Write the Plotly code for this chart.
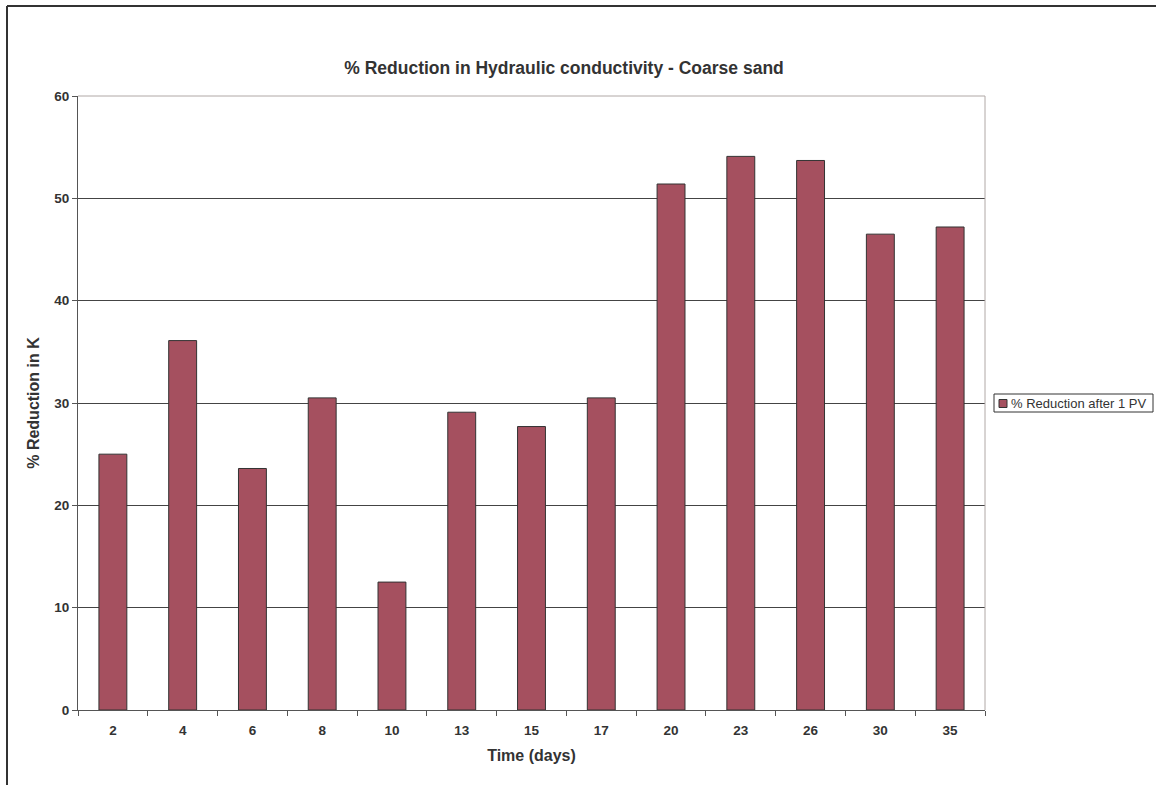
import plotly.graph_objects as go

# Sampling day after start of the column test
days = ["2", "4", "6", "8", "10", "13", "15", "17", "20", "23", "26", "30", "35"]
# Percent reduction in hydraulic conductivity after 1 pore volume
reduction_1pv = [25.0, 36.1, 23.6, 30.5, 12.5, 29.1, 27.7, 30.5, 51.4, 54.1, 53.7, 46.5, 47.2]
y_ticks = [0, 10, 20, 30, 40, 50, 60]
series_name = "% Reduction after 1 PV"

W, H = 1156, 785
L, R, T, B = 78, 171, 96, 75
PW, PH = W - L - R, H - T - B


def px_x(px):
    return (px - L) / PW


def px_y(py):
    return (H - B - py) / PH


FONT = "Liberation Sans, Arial, sans-serif"
TXT = "#333333"
BAR = "#A5505F"
EDGE = "#333333"

fig = go.Figure()
fig.add_trace(go.Bar(
    x=days,
    y=reduction_1pv,
    name=series_name,
    marker=dict(color=BAR, line=dict(color=EDGE, width=1)),
    showlegend=False,
))

shapes = [
    # light top and right plot borders
    dict(type="line", xref="paper", yref="paper", x0=0, x1=1, y0=1, y1=1,
         line=dict(color="#B0A8A6", width=1)),
    dict(type="line", xref="paper", yref="paper", x0=1, x1=1, y0=0, y1=1,
         line=dict(color="#B0A8A6", width=1)),
    # outer chart frame (top and left)
    dict(type="line", xref="paper", yref="paper",
         x0=px_x(7), x1=px_x(1156), y0=px_y(6), y1=px_y(6),
         line=dict(color="#333333", width=2)),
    dict(type="line", xref="paper", yref="paper",
         x0=px_x(7), x1=px_x(7), y0=px_y(6), y1=px_y(785),
         line=dict(color="#333333", width=2)),
    # legend box and swatch
    dict(type="rect", xref="paper", yref="paper",
         x0=px_x(994), x1=px_x(1153), y0=px_y(412), y1=px_y(394),
         line=dict(color="#333333", width=1), fillcolor="white"),
    dict(type="rect", xref="paper", yref="paper",
         x0=px_x(999), x1=px_x(1007), y0=px_y(407.5), y1=px_y(399.5),
         line=dict(color=EDGE, width=1), fillcolor=BAR),
]

annotations = [
    dict(text=series_name, xref="paper", yref="paper",
         x=px_x(1009), y=px_y(403.5), xanchor="left", yanchor="middle",
         showarrow=False, font=dict(family=FONT, size=13, color=TXT)),
]

fig.update_layout(
    width=W, height=H,
    margin=dict(l=L, r=R, t=T, b=B, autoexpand=False),
    paper_bgcolor="white",
    plot_bgcolor="white",
    bargap=0.6,
    font=dict(family=FONT, color=TXT),
    title=dict(
        text="% Reduction in Hydraulic conductivity - Coarse sand",
        font=dict(family=FONT, size=17.5, color=TXT, weight="bold"),
        x=px_x(564), xref="paper", xanchor="center",
        y=1 - 68 / H, yref="container", yanchor="middle",
    ),
    showlegend=False,
    xaxis=dict(
        type="category",
        tickson="boundaries",
        ticks="outside", ticklen=5, tickcolor="#555555",
        showline=True, linecolor="#555555", linewidth=1,
        showgrid=False,
        ticklabelstandoff=8,
        tickfont=dict(family=FONT, size=13.5, color=TXT, weight="bold"),
        title=dict(text="Time (days)", standoff=12,
                   font=dict(family=FONT, size=16, color=TXT, weight="bold")),
        range=[-0.5, len(days) - 0.5],
    ),
    yaxis=dict(
        range=[0, 60],
        tickvals=y_ticks,
        ticks="outside", ticklen=5, tickcolor="#555555",
        showline=True, linecolor="#555555", linewidth=1,
        showgrid=True, gridcolor="#444444", gridwidth=1,
        zeroline=False,
        tickfont=dict(family=FONT, size=13.5, color=TXT, weight="bold"),
        title=dict(text="% Reduction in K", standoff=10,
                   font=dict(family=FONT, size=16, color=TXT, weight="bold")),
    ),
    shapes=shapes,
    annotations=annotations,
)

fig.write_html("out.html")
